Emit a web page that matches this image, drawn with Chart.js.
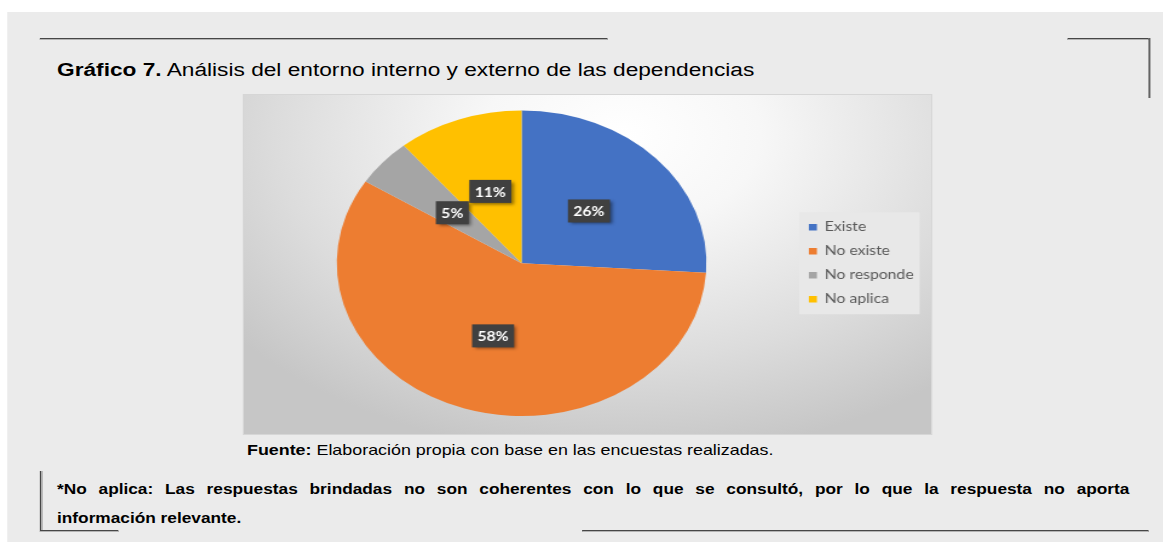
<!DOCTYPE html>
<html lang="es">
<head>
<meta charset="utf-8">
<title>Gráfico 7</title>
<script src="https://cdn.jsdelivr.net/npm/chart.js@4.4.1/dist/chart.umd.min.js"></script>
<style>
  html, body { margin: 0; padding: 0; background: #fff; }
  body { width: 1163px; height: 542px; overflow: hidden; position: relative; }

  /* la hoja se maqueta estrecha y luego se ensancha en horizontal */
  #hoja {
    position: absolute; left: 0; top: 0;
    width: 963px; height: 542px;
    transform: scaleX(1.2077); transform-origin: 0 0;
    font-family: "Liberation Sans", Arial, sans-serif; color: #000;
  }
  #panel { position: absolute; left: 5.8px; top: 12px; right: 0; bottom: 0; background: #ebebeb; }

  .lh { position: absolute; height: 1px; background: #464646; border-bottom: 1px solid #b4b4b4; }
  .lv { position: absolute; width: 1px; background: #464646; border-right: 1px solid #b4b4b4; }

  #titulo { position: absolute; left: 47.2px; top: 61px; font-size: 18.8px; line-height: 1; white-space: nowrap; }
  #caja {
    position: absolute; left: 201.2px; top: 94px; width: 570.5px; height: 341px;
    box-sizing: border-box; border: 1px solid #d6d6d6;
    background: radial-gradient(ellipse 72% 95% at 55% 12%, #ffffff 0%, #f7f7f7 28%, #dcdcdc 70%, #c6c6c6 100%);
  }
  #fuente { position: absolute; left: 204.5px; top: 442.5px; font-size: 14.8px; line-height: 1; white-space: nowrap; }
  #nota {
    position: absolute; left: 47.2px; top: 474.5px; width: 888px;
    font-size: 14.3px; line-height: 29px; font-weight: bold;
  }
  /* primera línea justificada hasta el margen */
  #nota .l1 { text-align: justify; text-align-last: justify; white-space: nowrap; }
</style>
</head>
<body>
<div id="hoja">
  <div id="panel"></div>

  <div class="lh" style="left:33.1px; top:38px; width:469.5px;"></div>
  <div class="lh" style="left:884.3px; top:38px; width:67.1px;"></div>
  <div class="lv" style="left:951px; top:38px; height:60px;"></div>
  <div class="lv" style="left:33.1px; top:471px; height:59px;"></div>
  <div class="lh" style="left:33.1px; top:529.5px; width:65.4px;"></div>
  <div class="lh" style="left:481.9px; top:529.5px; width:468.7px;"></div>

  <div id="titulo"><b>Gráfico 7.</b> Análisis del entorno interno y externo de las dependencias</div>

  <div id="caja"><canvas id="myChart"></canvas></div>

  <div id="fuente"><b>Fuente:</b> Elaboración propia con base en las encuestas realizadas.</div>

  <div id="nota">
    <div class="l1">*No aplica: Las respuestas brindadas no son coherentes con lo que se consultó, por lo que la respuesta no aporta</div>
    <div>información relevante.</div>
  </div>
</div>

<script>
// datos del gráfico
const categorias = ["Existe", "No existe", "No responde", "No aplica"];
const porcentajes = [26, 58, 5, 11];
const colores = ["#4472C4", "#ED7D31", "#A5A5A5", "#FFC000"];

// fondo gris claro detrás de la leyenda
const fondoLeyenda = {
  id: "fondoLeyenda",
  beforeDraw(chart) {
    const leg = chart.legend;
    if (!leg) return;
    const ctx = chart.ctx;
    const medio = (leg.top + leg.bottom) / 2;
    ctx.save();
    ctx.fillStyle = "#e8e8e8";
    ctx.fillRect(leg.left + 3, medio - 51, leg.right - leg.left - 8, 102);
    ctx.restore();
  },
};

// etiquetas de porcentaje en cajas oscuras
const etiquetas = {
  id: "etiquetas",
  afterDatasetsDraw(chart) {
    const ctx = chart.ctx;
    const meta = chart.getDatasetMeta(0);
    ctx.save();
    ctx.font = "bold 13px Lato";
    ctx.textAlign = "center";
    ctx.textBaseline = "middle";
    meta.data.forEach((arco, i) => {
      const p = arco.getCenterPoint();
      const txt = porcentajes[i] + "%";
      const w = ctx.measureText(txt).width + 9;
      const h = 23;
      ctx.shadowColor = "rgba(0,0,0,0.45)";
      ctx.shadowBlur = 3;
      ctx.shadowOffsetX = 2;
      ctx.shadowOffsetY = 2;
      ctx.fillStyle = "#404040";
      ctx.fillRect(p.x - w / 2, p.y - h / 2, w, h);
      ctx.shadowColor = "transparent";
      ctx.fillStyle = "#ffffff";
      ctx.fillText(txt, p.x, p.y + 1);
    });
    ctx.restore();
  },
};

const data = {
  labels: categorias,
  datasets: [
    {
      data: porcentajes,
      backgroundColor: colores,
      borderWidth: 0,
    },
  ],
};

const config = {
  type: "pie",
  data: data,
  options: {
    responsive: true,
    maintainAspectRatio: false,
    animation: false,
    layout: {
      padding: { left: 3, right: 5, top: 15.5, bottom: 18 },
    },
    plugins: {
      legend: {
        position: "right",
        labels: {
          boxWidth: 6.6,
          boxHeight: 6.6,
          padding: 11,
          color: "#595959",
          font: { family: "Lato", size: 13 },
        },
      },
      tooltip: { enabled: false },
    },
  },
  plugins: [fondoLeyenda, etiquetas],
};

const context = document.getElementById("myChart").getContext("2d");
const chart = new Chart(context, config);
</script>
</body>
</html>
